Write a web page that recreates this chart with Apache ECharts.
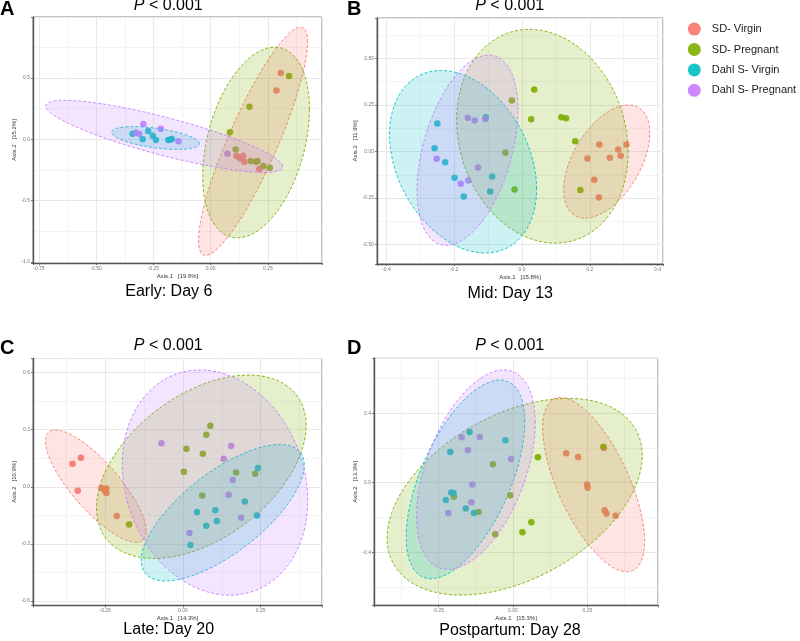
<!DOCTYPE html>
<html><head><meta charset="utf-8">
<script src="https://cdn.jsdelivr.net/npm/echarts@6/dist/echarts.min.js"></script>
<style>html,body{margin:0;padding:0;background:#fff}#c{width:800px;height:641px}</style>
</head><body><div id="c"></div>
<script>
// ---------- DATA ----------
const groups = ['SD- Virgin', 'SD- Pregnant', 'Dahl S- Virgin', 'Dahl S- Pregnant'];
const panelLetters = ['A', 'B', 'C', 'D'];
const panelTitles = ['Early: Day 6', 'Mid: Day 13', 'Late: Day 20', 'Postpartum: Day 28'];
const pValueText = 'P < 0.001';
const axis1Names = ['Axis.1   [19.6%]', 'Axis.1   [15.8%]', 'Axis.1   [14.3%]', 'Axis.1   [15.3%]'];
const axis2Names = ['Axis.2   [15.2%]', 'Axis.2   [11.9%]', 'Axis.2   [10.9%]', 'Axis.2   [13.3%]'];
const xRanges = [[-0.776, 0.486], [-0.428, 0.416], [-0.482, 0.447], [-0.466, 0.487]];
const yRanges = [[-1.008, 0.997], [-0.604, 0.717], [-0.623, 0.673], [-0.706, 0.716]];
const xSteps = [0.25, 0.2, 0.25, 0.25];
const ySteps = [0.5, 0.25, 0.3, 0.4];
const xDecimals = [2, 1, 2, 2];
const yDecimals = [1, 2, 1, 1];

// Early: Day 6
const earlySDVirgin = [[0.306,0.541],[0.287,0.397],[0.113,-0.136],[0.128,-0.155],[0.142,-0.134],[0.147,-0.183],[0.212,-0.242]];
const earlySDPregnant = [[0.342,0.517],[0.169,0.266],[0.084,0.057],[0.109,-0.082],[0.175,-0.177],[0.204,-0.177],[0.230,-0.218],[0.258,-0.232],[0.198,-0.182]];
const earlyDahlVirgin = [[-0.341,0.046],[-0.273,0.068],[-0.297,0.000],[-0.253,0.029],[-0.239,-0.006],[-0.185,-0.006],[-0.170,0.002],[-0.178,-0.004]];
const earlyDahlPregnant = [[-0.294,0.125],[-0.326,0.054],[-0.312,0.043],[-0.218,0.087],[-0.141,-0.016],[0.073,-0.117]];
// Mid: Day 13
const midSDVirgin = [[0.193,-0.038],[0.228,0.038],[0.259,-0.034],[0.284,0.011],[0.291,-0.023],[0.308,0.038],[0.213,-0.152],[0.227,-0.247]];
const midSDPregnant = [[-0.030,0.274],[0.036,0.333],[0.027,0.173],[0.116,0.184],[0.130,0.179],[0.157,0.055],[-0.049,-0.007],[-0.022,-0.204],[0.172,-0.207]];
const midDahlVirgin = [[-0.250,0.150],[-0.258,0.018],[-0.227,-0.057],[-0.199,-0.141],[-0.172,-0.241],[-0.107,0.184],[-0.088,-0.134],[-0.094,-0.215]];
const midDahlPregnant = [[-0.252,-0.039],[-0.160,0.181],[-0.140,0.166],[-0.108,0.175],[-0.130,-0.086],[-0.181,-0.173],[-0.159,-0.156]];
// Late: Day 20
const lateSDVirgin = [[-0.355,0.121],[-0.328,0.152],[-0.338,-0.021],[-0.262,-0.007],[-0.252,-0.018],[-0.246,-0.009],[-0.246,-0.033],[-0.213,-0.154]];
const lateSDPregnant = [[-0.173,-0.198],[0.003,0.079],[0.011,0.200],[0.064,0.173],[0.075,0.273],[0.088,0.320],[0.062,-0.046],[0.171,0.075],[0.232,0.068]];
const lateDahlVirgin = [[0.241,0.098],[0.045,-0.133],[0.104,-0.123],[0.075,-0.205],[0.109,-0.180],[0.199,-0.077],[0.238,-0.151],[0.024,-0.305]];
const lateDahlPregnant = [[-0.069,0.228],[0.155,0.214],[0.131,0.147],[0.160,0.035],[0.147,-0.042],[0.187,-0.163],[0.021,-0.243]];
// Postpartum: Day 28
const postSDVirgin = [[0.179,0.169],[0.219,0.148],[0.249,-0.010],[0.251,-0.029],[0.305,0.200],[0.308,-0.159],[0.314,-0.178],[0.345,-0.190]];
const postSDPregnant = [[-0.067,0.106],[0.084,0.146],[-0.009,-0.073],[-0.198,-0.081],[-0.115,-0.169],[0.062,-0.228],[0.032,-0.286],[-0.059,-0.297],[0.304,0.207]];
const postDahlVirgin = [[-0.210,0.176],[-0.145,0.292],[-0.025,0.244],[-0.207,-0.056],[-0.199,-0.059],[-0.225,-0.100],[-0.158,-0.148],[-0.131,-0.175]];
const postDahlPregnant = [[-0.172,0.261],[-0.111,0.263],[-0.151,0.186],[-0.006,0.136],[-0.136,-0.010],[-0.139,-0.113],[-0.217,-0.175]];

// 95% ellipses: [centerX, centerY, halfWidthX, halfHeightY, correlation]
const earlyEllipses = [[0.185,-0.016,0.238,0.930,0.87],[0.198,-0.026,0.233,0.777,0.35],[-0.241,0.011,0.191,0.093,-0.50],[-0.203,0.024,0.517,0.294,-0.84]];
const midEllipses = [[0.250,-0.054,0.127,0.304,0.50],[0.060,0.082,0.253,0.574,-0.15],[-0.174,-0.055,0.217,0.490,-0.30],[-0.161,0.007,0.149,0.511,0.42]];
const lateEllipses = [[-0.280,0.003,0.162,0.295,-0.80],[0.059,0.105,0.337,0.481,0.45],[0.128,-0.136,0.262,0.358,0.70],[0.103,0.022,0.298,0.591,-0.16]];
const postEllipses = [[0.271,-0.011,0.171,0.502,-0.65],[0.006,-0.081,0.428,0.566,0.42],[-0.159,0.019,0.199,0.572,0.58],[-0.124,0.075,0.199,0.574,0.47]];

const panelPoints = [
  [earlySDVirgin, earlySDPregnant, earlyDahlVirgin, earlyDahlPregnant],
  [midSDVirgin, midSDPregnant, midDahlVirgin, midDahlPregnant],
  [lateSDVirgin, lateSDPregnant, lateDahlVirgin, lateDahlPregnant],
  [postSDVirgin, postSDPregnant, postDahlVirgin, postDahlPregnant]
];
const panelEllipses = [earlyEllipses, midEllipses, lateEllipses, postEllipses];

// ---------- STYLE / LAYOUT ----------
const colors = ['#F8766D', '#7CAE00', '#00BFC4', '#C77CFF'];
const fillColors = ['rgba(248,118,109,0.2)', 'rgba(124,174,0,0.2)', 'rgba(0,191,196,0.2)', 'rgba(199,124,255,0.2)'];
const FONT = '"Liberation Sans", Arial, Helvetica, sans-serif';
const gridBoxes = [
  {left: 33, top: 17, width: 289, height: 246},
  {left: 377, top: 18, width: 286, height: 246},
  {left: 33, top: 358.5, width: 289, height: 247},
  {left: 374, top: 358.3, width: 284, height: 247}
];
const letterPos = [[0, 9], [347, 9], [0, 348.3], [347, 348]];
const titlePos = [[168.3, 5.8], [509.7, 5.8], [168.3, 345.3], [509.7, 345.3]];
const subPos = [[168.8, 291.5], [510.3, 293.5], [168.7, 630], [510, 631]];

function isMult(v, s) { const r = v / s; return Math.abs(r - Math.round(r)) < 1e-6; }

const grid = [], xAxis = [], yAxis = [], series = [], graphic = [];
for (let i = 0; i < 4; i++) {
  grid.push(Object.assign({show: true, borderColor: '#8a8a8a', borderWidth: 1, backgroundColor: '#fff', containLabel: false}, gridBoxes[i]));
  const xs = xSteps[i], ys = ySteps[i];
  // minor axes (grid lines only)
  xAxis.push({gridIndex: i, type: 'value', min: xRanges[i][0], max: xRanges[i][1], minInterval: xs / 2, maxInterval: xs / 2, splitNumber: 20,
    axisLabel: {show: false}, axisTick: {show: false}, axisLine: {show: false},
    splitLine: {show: true, lineStyle: {color: '#efefef', width: 0.7}}});
  yAxis.push({gridIndex: i, type: 'value', min: yRanges[i][0], max: yRanges[i][1], minInterval: ys / 2, maxInterval: ys / 2, splitNumber: 20,
    axisLabel: {show: false}, axisTick: {show: false}, axisLine: {show: false},
    splitLine: {show: true, lineStyle: {color: '#efefef', width: 0.7}}});
  // major axes
  xAxis.push({gridIndex: i, type: 'value', position: 'bottom', min: xRanges[i][0], max: xRanges[i][1], minInterval: xs, maxInterval: xs, splitNumber: 10,
    name: axis1Names[i], nameLocation: 'middle', nameGap: 10,
    nameTextStyle: {fontSize: 6, color: '#333', fontFamily: FONT},
    axisLabel: {fontSize: 5, color: '#777', fontFamily: FONT, margin: 3,
      formatter: (v) => isMult(v, xs) ? v.toFixed(xDecimals[i]) : ''},
    axisTick: {show: true, length: 2, lineStyle: {color: '#555', width: 0.8}},
    axisLine: {show: true, onZero: false, lineStyle: {color: '#555', width: 1.4}},
    splitLine: {show: true, lineStyle: {color: '#e8e8e8', width: 1}}});
  yAxis.push({gridIndex: i, type: 'value', position: 'left', min: yRanges[i][0], max: yRanges[i][1], minInterval: ys, maxInterval: ys, splitNumber: 10,
    name: axis2Names[i], nameLocation: 'middle', nameGap: 15,
    nameTextStyle: {fontSize: 6, color: '#333', fontFamily: FONT},
    axisLabel: {fontSize: 5, color: '#777', fontFamily: FONT, margin: 3,
      formatter: (v) => isMult(v, ys) ? v.toFixed(yDecimals[i]) : ''},
    axisTick: {show: true, length: 2, lineStyle: {color: '#555', width: 0.8}},
    axisLine: {show: true, onZero: false, lineStyle: {color: '#555', width: 1.4}},
    splitLine: {show: true, lineStyle: {color: '#e8e8e8', width: 1}}});

  for (let g = 0; g < 4; g++) {
    series.push({
      name: groups[g], type: 'scatter', xAxisIndex: 2 * i + 1, yAxisIndex: 2 * i + 1,
      data: panelPoints[i][g], symbol: 'circle', symbolSize: 6.5, z: 2, silent: true,
      itemStyle: {color: colors[g], opacity: 0.9}
    });
  }
  for (let g = 0; g < 4; g++) {
    const col = colors[g], fill = fillColors[g];
    series.push({
      name: 'ellipse-' + i + '-' + g, type: 'custom', xAxisIndex: 2 * i + 1, yAxisIndex: 2 * i + 1,
      data: [panelEllipses[i][g]], z: 3, silent: true,
      encode: {x: 0, y: 1},
      renderItem: function (params, api) {
        const cx = api.value(0), cy = api.value(1), w = api.value(2), h = api.value(3), r = api.value(4);
        const s = Math.sqrt(1 - r * r);
        const pts = [];
        const N = 160;
        for (let k = 0; k < N; k++) {
          const t = k / N * Math.PI * 2;
          pts.push(api.coord([cx + w * Math.cos(t), cy + h * (r * Math.cos(t) + s * Math.sin(t))]));
        }
        return {type: 'polygon', shape: {points: pts},
          style: {fill: fill, stroke: col, lineWidth: 0.9, lineDash: [3, 2]}};
      }
    });
  }
  graphic.push({type: 'text', x: letterPos[i][0], y: letterPos[i][1],
    style: {text: panelLetters[i], font: 'bold 20px ' + FONT, fill: '#000', textAlign: 'left', textVerticalAlign: 'middle', verticalAlign: 'middle'}});
  graphic.push({type: 'text', x: titlePos[i][0], y: titlePos[i][1],
    style: {text: '{i|P}{n|' + pValueText.slice(1) + '}', textAlign: 'center', align: 'center', verticalAlign: 'middle', textVerticalAlign: 'middle',
      fontSize: 16, fontFamily: FONT, fill: '#000',
      rich: {i: {fontStyle: 'italic', fontSize: 16, fontFamily: FONT, fill: '#000', color: '#000'},
             n: {fontSize: 16, fontFamily: FONT, fill: '#000', color: '#000'}}}});
  graphic.push({type: 'text', x: subPos[i][0], y: subPos[i][1],
    style: {text: panelTitles[i], font: '16px ' + FONT, fill: '#000', textAlign: 'center', align: 'center', verticalAlign: 'middle', textVerticalAlign: 'middle'}});
}

const chart = echarts.init(document.getElementById('c'), null, {renderer: 'canvas'});
chart.setOption({
  animation: false,
  backgroundColor: '#fff',
  grid, xAxis, yAxis, series, graphic,
  legend: {
    data: groups, orient: 'vertical', left: 687.8, top: 22.6, padding: 0,
    icon: 'circle', itemWidth: 25, itemHeight: 13, itemGap: 7.4, symbolKeepAspect: true,
    textStyle: {fontSize: 11, color: '#1a1a1a', fontFamily: FONT},
    selectedMode: false
  }
});
</script></body></html>
